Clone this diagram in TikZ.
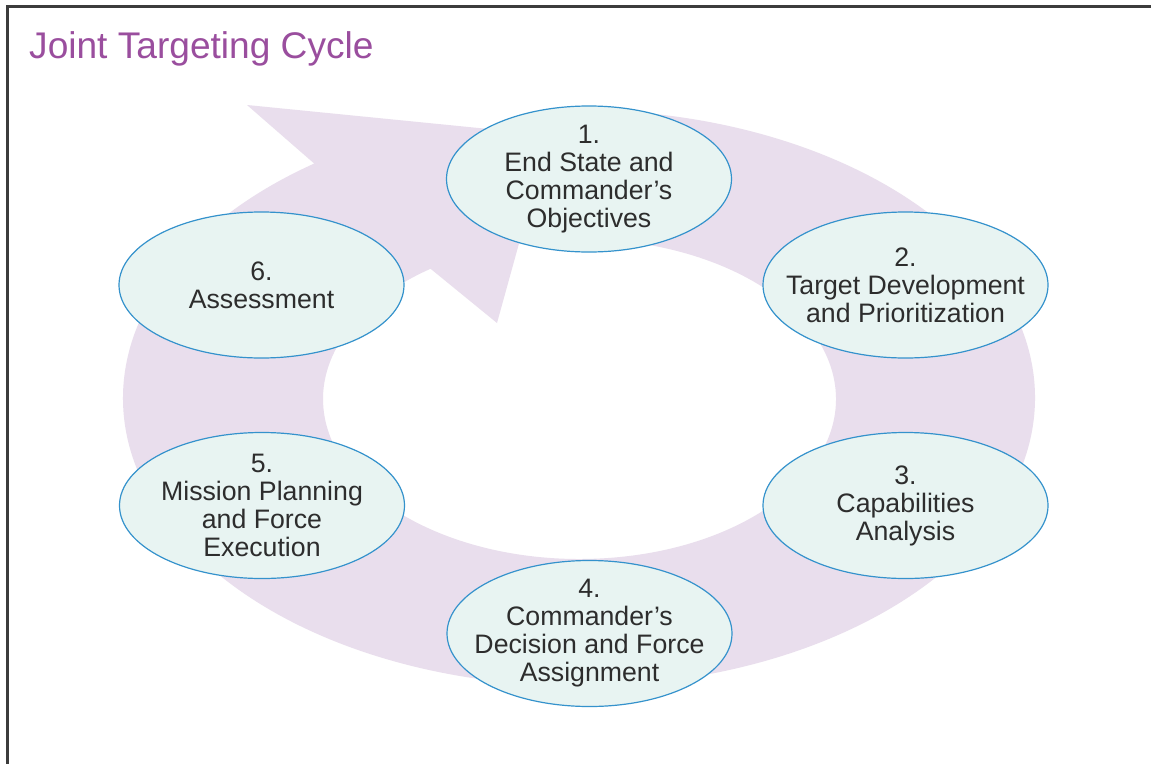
\documentclass[tikz,border=0pt]{standalone}
\usepackage{fontspec}
\setmainfont{Liberation Sans}
\usetikzlibrary{shapes.geometric}
\definecolor{ringpurple}{RGB}{233,222,237}
\definecolor{stagefill}{RGB}{232,244,242}
\definecolor{stageline}{RGB}{52,146,204}
\definecolor{titlepurple}{RGB}{154,78,158}
\definecolor{textgray}{RGB}{45,45,45}
\definecolor{framegray}{RGB}{60,60,60}
\tikzset{
  stage/.style={ellipse, draw=stageline, fill=stagefill, line width=1.2pt, minimum width=285pt, minimum height=146pt, inner xsep=-30pt, inner ysep=-20pt, align=center, text=textgray, font=\fontsize{26.7}{28}\selectfont},
  heading/.style={anchor=base west, inner sep=0pt, text=titlepurple, font=\fontsize{37.1}{40}\selectfont},
}

\begin{document}
\begin{tikzpicture}[x=1pt, y=1pt]
  \clip (0,0) rectangle (1151,-763);
  \fill[white] (0,0) rectangle (1151,-763);

  % Frame
  \draw[framegray, line width=2.8pt] (7.3,-800) -- (7.3,-6.5) -- (1200,-6.5);

  % Title
  \node[heading] (title) at (29,-58) {Joint Targeting Cycle};

  % Cycle arrow
  \fill[ringpurple] (579,-398) ++(125.5:456 and 288)
    arc[start angle=125.5, end angle=455, x radius=456, y radius=288]
    -- ([shift={(579.5,-399)}]95:256.5 and 160)
    arc[start angle=455, end angle=125.5, x radius=256.5, y radius=160]
    -- (497,-323) -- (549,-135) -- (247,-105) -- cycle;

  % Stages
  \node[stage] (s1) at (589,-179) {1.\\End State and\\Commander's\\Objectives};
  \node[stage] (s2) at (905.5,-285) {2.\\Target Development\\and Prioritization};
  \node[stage] (s3) at (905.5,-505.5) {3.\\Capabilities\\Analysis};
  \node[stage] (s4) at (589.5,-633.5) {4.\\Commander's\\Decision and Force\\Assignment};
  \node[stage] (s5) at (262,-505.5) {5.\\Mission Planning\\and Force\\Execution};
  \node[stage] (s6) at (261.5,-285) {6.\\Assessment};

\end{tikzpicture}
\end{document}
